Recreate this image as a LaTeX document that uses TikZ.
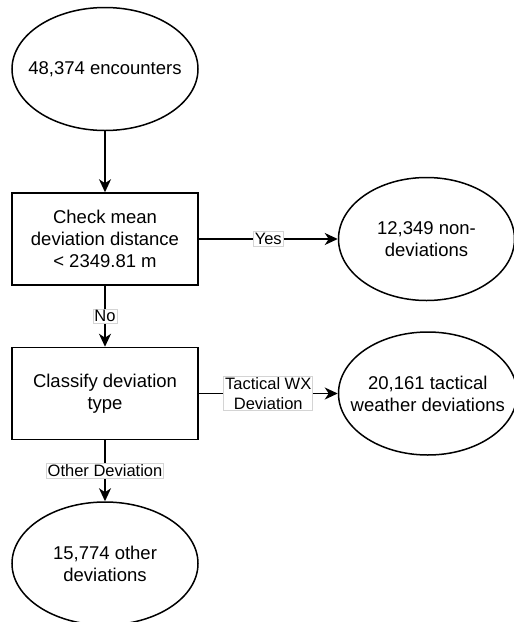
\documentclass[tikz,border=0pt]{standalone}
\usepackage{fontspec}
\setmainfont{Liberation Sans}
\usetikzlibrary{arrows.meta,positioning,shapes.geometric}
\definecolor{ink}{RGB}{0,0,0}
\definecolor{frame}{RGB}{212,212,212}
\tikzset{
  every picture/.style={color=ink, line width=1.5pt},
  node distance=61pt and 139pt,
  txt/.style={font=\fontsize{18.5}{22}\selectfont, align=center, text=ink},
  stage/.style={txt, ellipse, draw=ink, minimum width=186pt, minimum height=123pt, inner xsep=-14pt, inner ysep=0pt},
  outcome/.style={stage, minimum width=176pt},
  proc/.style={txt, rectangle, draw=ink, minimum width=186pt, minimum height=92pt, inner sep=0pt},
  flow/.style={-{Stealth[length=13pt,width=12pt,inset=4pt]}, line width=1.5pt},
  lbl/.style={font=\fontsize{16.5}{19.5}\selectfont, align=center, text=ink, fill=white, draw=frame, line width=0.75pt, inner sep=1.5pt},
}

\begin{document}
\begin{tikzpicture}
  \useasboundingbox (0,0) rectangle (514pt,-622pt);
  \node[stage] (enc) at (105pt,-69pt) {48,374 encounters};
  \node[proc, below=of enc] (chk) {Check mean\\deviation distance\\< 2349.81 m};
  \node[outcome, right=of chk] (non) {12,349 non-\\deviations};
  \node[proc, below=of chk] (cls) {Classify deviation\\type};
  \node[outcome, right=of cls] (tac) {20,161 tactical\\weather deviations};
  \node[stage, below=of cls] (oth) {15,774 other\\deviations};
  \draw[flow] (enc) -- (chk);
  \draw[flow] (chk) -- node[lbl] {Yes} (non);
  \draw[flow] (chk) -- node[lbl] {No} (cls);
  \draw[flow] (cls) -- node[lbl] {Tactical WX\\Deviation} (tac);
  \draw[flow] (cls) -- node[lbl] {Other Deviation} (oth);
\end{tikzpicture}
\end{document}
